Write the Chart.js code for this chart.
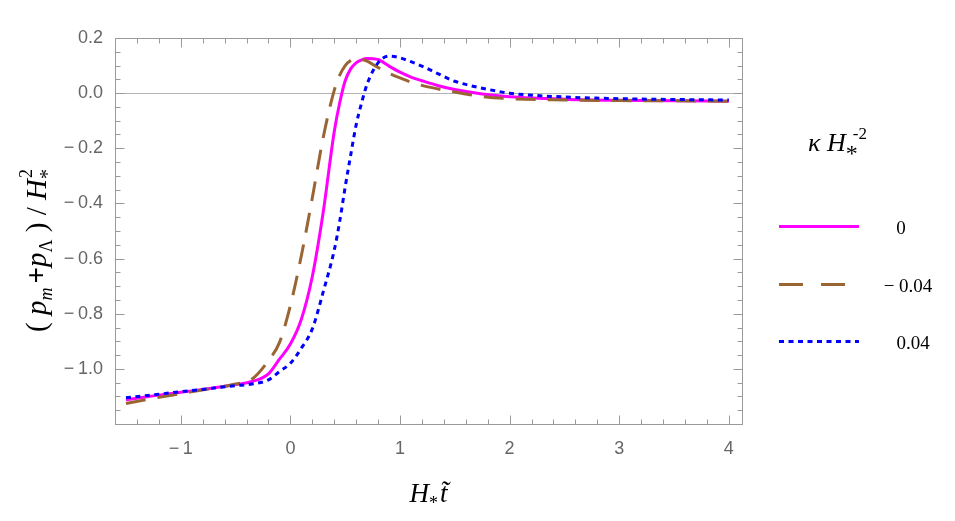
<!DOCTYPE html>
<html>
<head>
<meta charset="utf-8">
<script src="https://cdn.jsdelivr.net/npm/chart.js@4"></script>
<style>
  html, body { margin: 0; padding: 0; background: #fff; }
  #chart { display: block; }
</style>
</head>
<body>
<canvas id="chart" width="955" height="521"></canvas>
<script>
// H* t values (shared by all three curves)
const times = [-1.5, -1.25, -1.0, -0.75, -0.5, -0.35, -0.2, -0.1, 0.0, 0.1, 0.2, 0.3, 0.4, 0.45, 0.5,
    0.55, 0.6, 0.65, 0.7, 0.8, 0.9, 1.0, 1.1, 1.2, 1.35, 1.5, 1.75, 2.0, 2.5, 3.0, 3.5, 4.0];

// (p_m + p_Lambda) / H*^2 for each kappa H*^-2
const pressureK0 = [-1.112, -1.098, -1.085, -1.072, -1.057, -1.046, -1.018, -0.965, -0.91, -0.82,
    -0.665, -0.43, -0.14, -0.035, 0.045, 0.088, 0.11, 0.121, 0.126, 0.122, 0.098, 0.076, 0.058,
    0.045, 0.027, 0.013, -0.003, -0.013, -0.022, -0.026, -0.028, -0.029];
const pressureKneg = [-1.126, -1.107, -1.09, -1.073, -1.055, -1.037, -0.97, -0.905, -0.77, -0.59,
    -0.38, -0.16, 0.01, 0.065, 0.1, 0.118, 0.126, 0.123, 0.116, 0.093, 0.072, 0.055, 0.04,
    0.028, 0.015, 0.004, -0.012, -0.02, -0.025, -0.027, -0.028, -0.029];
const pressureKpos = [-1.105, -1.094, -1.083, -1.072, -1.061, -1.055, -1.04, -1.01, -0.98, -0.925,
    -0.855, -0.72, -0.57, -0.465, -0.34, -0.225, -0.115, -0.035, 0.033, 0.11, 0.134, 0.128,
    0.114, 0.098, 0.07, 0.043, 0.018, 0.0, -0.014, -0.02, -0.023, -0.025];

const seriesLabels = ['0', '\u2212 0.04', '0.04'];
const xTicks = [-1, 0, 1, 2, 3, 4];
const yTicks = [0.2, 0.0, -0.2, -0.4, -0.6, -0.8, -1.0];

const SERIF = '"Liberation Serif", "DejaVu Serif", serif';
const FRAME_COLOR = '#9a9a9a';

function toPoints(values) {
    return times.map((t, i) => ({ x: t, y: values[i] }));
}

function fmtTick(v, digits) {
    const s = Math.abs(v).toFixed(digits);
    return v < -1e-9 ? '\u2212\u2009' + s : s;
}

// draw a run of text pieces with their own font and vertical shift
function drawRich(ctx, parts, x, y, align) {
    let total = 0;
    parts.forEach(p => {
        ctx.font = p.font;
        p.w = ctx.measureText(p.text).width + (p.gap || 0);
        total += p.w;
    });
    let cx = align === 'center' ? x - total / 2 : (align === 'right' ? x - total : x);
    ctx.textAlign = 'left';
    ctx.textBaseline = 'alphabetic';
    parts.forEach(p => {
        ctx.font = p.font;
        ctx.fillText(p.text, cx + (p.dx || 0), y + (p.dy || 0));
        cx += p.w;
    });
}

/**
 * Frame with inward ticks on all four sides, plus the zero line
 */
const framePlugin = {
    id: 'frame',
    beforeDatasetsDraw(chart) {
        const { ctx, chartArea: a, scales: { y } } = chart;
        const y0 = Math.round(y.getPixelForValue(0)) + 0.5;
        ctx.save();
        ctx.strokeStyle = '#b4b4b4';
        ctx.lineWidth = 1;
        ctx.beginPath();
        ctx.moveTo(a.left, y0);
        ctx.lineTo(a.right, y0);
        ctx.stroke();
        ctx.restore();
    },
    afterDatasetsDraw(chart) {
        const { ctx, chartArea: a, scales: { x, y } } = chart;
        ctx.save();
        ctx.strokeStyle = FRAME_COLOR;
        ctx.lineWidth = 1;
        const L = Math.round(a.left) + 0.5, R = Math.round(a.right) + 0.5;
        const T = Math.round(a.top) + 0.5, B = Math.round(a.bottom) + 0.5;
        ctx.strokeRect(L, T, R - L, B - T);
        ctx.beginPath();
        for (let i = -8; i <= 20; i++) {
            const px = Math.round(x.getPixelForValue(i / 5)) + 0.5;
            if (px <= L || px >= R) continue;
            const len = i % 5 === 0 ? 9 : 5;
            ctx.moveTo(px, B); ctx.lineTo(px, B - len);
            ctx.moveTo(px, T); ctx.lineTo(px, T + len);
        }
        for (let i = -24; i <= 4; i++) {
            const py = Math.round(y.getPixelForValue(i / 20)) + 0.5;
            if (py < T || py > B) continue;
            const len = i % 4 === 0 ? 9 : 5;
            ctx.moveTo(L, py); ctx.lineTo(L + len, py);
            ctx.moveTo(R, py); ctx.lineTo(R - len, py);
        }
        ctx.stroke();
        ctx.restore();
    }
};

/**
 * Axis titles and the legend on the right
 */
const labelsPlugin = {
    id: 'labels',
    afterDraw(chart) {
        const { ctx, chartArea: a } = chart;
        const ds = chart.data.datasets;
        ctx.save();
        ctx.fillStyle = '#000';

        // x title: H* t~
        const xc = (a.left + a.right) / 2;
        drawRich(ctx, [
            { text: 'H', font: 'italic 27px ' + SERIF },
            { text: '*', font: '18px ' + SERIF, dy: 7, gap: 2 },
            { text: 't\u0303', font: 'italic 27px ' + SERIF }
        ], xc, 502, 'center');

        // y title, rotated
        ctx.save();
        ctx.translate(46, 246);
        ctx.rotate(-Math.PI / 2);
        drawRich(ctx, [
            { text: '( ', font: '29px ' + SERIF },
            { text: 'p', font: 'italic 29px ' + SERIF },
            { text: 'm', font: 'italic 18px ' + SERIF, dy: 6, gap: 4 },
            { text: '+', font: 'bold 29px ' + SERIF },
            { text: 'p', font: 'italic 29px ' + SERIF },
            { text: '\u039b', font: '18px ' + SERIF, dy: 6 },
            { text: ' ) / ', font: '29px ' + SERIF },
            { text: 'H', font: 'italic 29px ' + SERIF },
            { text: '*', font: '20px ' + SERIF, dy: 8 },
            { text: '2', font: '18px ' + SERIF, dy: -14, dx: -9 }
        ], 0, 0, 'center');
        ctx.restore();

        // legend title: kappa H*^-2
        drawRich(ctx, [
            { text: '\u03ba ', font: 'italic 26px ' + SERIF },
            { text: 'H', font: 'italic 26px ' + SERIF },
            { text: '*', font: '24px ' + SERIF, dy: 10 },
            { text: '-2', font: '17px ' + SERIF, dy: -12, dx: -5 }
        ], 840, 151, 'center');

        // legend entries
        const rows = [226, 284, 341];
        const labelX = [901, 908, 913];
        rows.forEach((ry, i) => {
            const d = ds[i];
            ctx.save();
            ctx.strokeStyle = d.borderColor;
            ctx.lineWidth = d.borderWidth;
            ctx.setLineDash(i === 1 ? [24, 18] : (d.borderDash || []));
            ctx.beginPath();
            ctx.moveTo(779, ry + 0.5);
            ctx.lineTo(859, ry + 0.5);
            ctx.stroke();
            ctx.restore();
            ctx.font = '19px ' + SERIF;
            ctx.textAlign = 'center';
            ctx.textBaseline = 'middle';
            ctx.fillText(seriesLabels[i], labelX[i], ry + 3);
        });
        ctx.restore();
    }
};

const ctx = document.getElementById('chart').getContext('2d');
new Chart(ctx, {
    type: 'line',
    data: {
        datasets: [
            {
                label: seriesLabels[0],
                data: toPoints(pressureK0),
                borderColor: '#ff00ff',
                borderWidth: 3,
                order: 3
            },
            {
                label: seriesLabels[1],
                data: toPoints(pressureKneg),
                borderColor: '#996633',
                borderWidth: 3,
                borderDash: [20, 12],
                order: 2
            },
            {
                label: seriesLabels[2],
                data: toPoints(pressureKpos),
                borderColor: '#0000ff',
                borderWidth: 3,
                borderDash: [5, 4.5],
                order: 1
            }
        ]
    },
    options: {
        responsive: false,
        animation: false,
        devicePixelRatio: 1,
        layout: {
            padding: { left: 0, top: 38, right: 213, bottom: 0 }
        },
        elements: {
            point: { radius: 0 },
            line: { cubicInterpolationMode: 'monotone', borderCapStyle: 'butt', fill: false }
        },
        scales: {
            x: {
                type: 'linear',
                min: -1.6,
                max: 4.12,
                afterBuildTicks: scale => { scale.ticks = xTicks.map(v => ({ value: v })); },
                afterFit: scale => { scale.height = 97; },
                grid: { display: false, drawTicks: false },
                border: { display: false },
                ticks: {
                    padding: 14,
                    color: '#666',
                    font: { family: '"Liberation Sans", sans-serif', size: 18 },
                    callback: v => fmtTick(v, 0)
                }
            },
            y: {
                type: 'linear',
                min: -1.2,
                max: 0.2,
                afterBuildTicks: scale => { scale.ticks = yTicks.map(v => ({ value: v })); },
                afterFit: scale => { scale.width = 115; },
                grid: { display: false, drawTicks: false },
                border: { display: false },
                ticks: {
                    padding: 12,
                    color: '#666',
                    font: { family: '"Liberation Sans", sans-serif', size: 18 },
                    callback: v => fmtTick(v, 1)
                }
            }
        },
        plugins: {
            legend: { display: false },
            tooltip: { enabled: false }
        }
    },
    plugins: [framePlugin, labelsPlugin]
});
</script>
</body>
</html>
